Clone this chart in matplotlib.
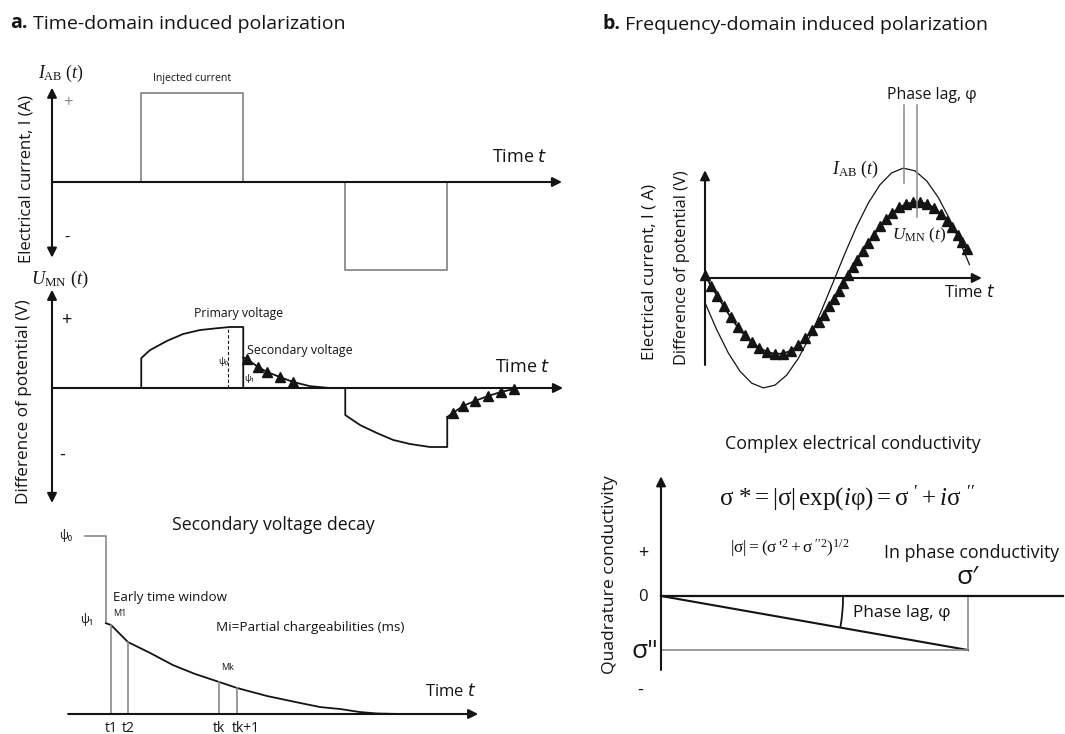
import matplotlib
matplotlib.use("Agg")
import matplotlib.pyplot as plt
from matplotlib.patches import Arc

W, H = 1065, 734
INK = "#141414"
GREY = "#8a8a8a"

plt.rcParams["font.family"] = ["Open Sans", "DejaVu Sans"]
plt.rcParams["mathtext.fontset"] = "custom"
plt.rcParams["mathtext.rm"] = "Liberation Serif"
plt.rcParams["mathtext.it"] = "Liberation Serif:italic"

# a. time domain -- injected current (time in arbitrary units, amplitude normalised)
pulse_start = [1.75, 5.75]
pulse_len = 2.0
pulse_amp = [1.0, -0.99]

# measured potential, on-time (primary) and off-time (secondary) parts
primary_t = [1.75, 1.75, 1.92, 2.25, 2.57, 2.90, 3.24, 3.49, 3.75, 3.75]
primary_v = [0.0, 0.49, 0.62, 0.77, 0.885, 0.95, 0.98, 1.0, 1.0, 0.0]
secondary_t = [3.75, 3.82, 4.04, 4.22, 4.47, 4.73, 5.06, 5.45]
secondary_v = [0.50, 0.475, 0.344, 0.262, 0.18, 0.098, 0.03, 0.0]
negative_t = [5.75, 5.75, 6.04, 6.37, 6.69, 7.02, 7.41, 7.75, 7.75]
negative_v = [0.0, -0.443, -0.607, -0.738, -0.852, -0.918, -0.967, -0.967, -0.475]
neg_secondary_t = [7.75, 7.86, 8.06, 8.29, 8.55, 8.80, 9.06]
neg_secondary_v = [-0.475, -0.41, -0.295, -0.213, -0.131, -0.066, -0.016]
psi0_t = 3.45

# secondary voltage decay
decay_t = [0.85, 1.0, 1.5, 2.15, 2.82, 3.47, 4.18, 4.71, 5.59, 6.56, 7.15, 7.74, 8.32, 8.82, 9.5]
decay_v = [0.51, 0.5, 0.404, 0.343, 0.275, 0.225, 0.18, 0.146, 0.101, 0.062, 0.039, 0.028, 0.011, 0.003, 0.0]
window_t = [1.0, 1.5, 4.18, 4.71]
window_labels = ["t1", "t2", "tk", "tk+1"]
psi0_start = 0.24

# b. frequency domain (phase in degrees)
i_deg = [0, 15, 30, 45, 60, 75, 90, 105, 120, 135, 150, 165, 180, 195, 210, 225,
         240, 255, 270, 285, 300, 315, 330, 340]
i_val = [-0.225, -0.469, -0.682, -0.848, -0.956, -0.999, -0.974, -0.883, -0.731, -0.530,
         -0.292, -0.035, 0.225, 0.469, 0.682, 0.848, 0.956, 0.999, 0.974, 0.883, 0.731,
         0.530, 0.292, 0.122]
u_deg = [0, 8, 16, 24, 33, 42, 51, 60, 70, 80, 90, 100, 110, 120, 129, 138, 146, 153, 160,
         166, 172, 178, 184, 190, 196, 203, 210, 217, 225, 233, 241, 250, 259, 268, 277,
         286, 295, 303, 311, 318, 325, 331, 337]
u_val = [0.024, -0.072, -0.167, -0.256, -0.357, -0.446, -0.521, -0.585, -0.637, -0.672,
         -0.690, -0.687, -0.663, -0.609, -0.548, -0.475, -0.401, -0.333, -0.256, -0.190,
         -0.120, -0.048, 0.024, 0.096, 0.167, 0.246, 0.321, 0.391, 0.471, 0.537, 0.592,
         0.642, 0.673, 0.688, 0.690, 0.672, 0.637, 0.585, 0.521, 0.460, 0.391, 0.327, 0.260]
lag_deg = [256, 272]
lag_bottom = [0.864, 0.555]
lag_top = 1.57

# complex conductivity
sigma_re = 1.0
sigma_im = -0.176
lag_radius = 0.593

fig = plt.figure(figsize=(W / 100, H / 100), dpi=100)


def panel(left, right, top, bottom, ox, oy, sx, sy):
    ax = fig.add_axes([left / W, 1 - bottom / H, (right - left) / W, (bottom - top) / H])
    ax.set_xlim((left - ox) / sx, (right - ox) / sx)
    ax.set_ylim((oy - bottom) / sy, (oy - top) / sy)
    ax.axis("off")
    return ax


def label(x, y, s, size=9, **kw):
    kw.setdefault("color", INK)
    kw.setdefault("ha", "center")
    kw.setdefault("va", "center")
    return fig.text(x / W, 1 - y / H, s, fontsize=size, **kw)


def arrow(ax, start, end, style="-|>"):
    ax.annotate("", xy=end, xytext=start, annotation_clip=False,
                arrowprops=dict(arrowstyle=style, color=INK, lw=1.5, mutation_scale=14,
                                shrinkA=0, shrinkB=0))


def title(x, y, tag, rest):
    first = label(x, y, tag, 14, ha="left", va="bottom", fontweight="bold")
    bg.annotate(rest, xy=(1, 0), xycoords=first, ha="left", va="bottom",
                fontsize=14, color=INK)


bg = fig.add_axes([0, 0, 1, 1])
bg.axis("off")

# ---- a. current
ax1 = panel(40, 575, 80, 280, 52, 182, 51, 89)
for s, a in zip(pulse_start, pulse_amp):
    ax1.plot([s, s, s + pulse_len, s + pulse_len], [0, a, a, 0], color=GREY, lw=1.3, clip_on=False)
arrow(ax1, (0, -0.85), (0, 1.06), "<|-|>")
arrow(ax1, (0, 0), (10.0, 0))

# ---- a. potential
ax2 = panel(40, 575, 285, 510, 52, 388, 51, 61)
ax2.plot(primary_t, primary_v, color=INK, lw=1.3, clip_on=False)
ax2.plot(negative_t, negative_v, color=INK, lw=1.3, clip_on=False)
ax2.plot(secondary_t, secondary_v, color=INK, lw=1.3, clip_on=False)
ax2.plot(secondary_t[1:-2], secondary_v[1:-2], "^", color=INK, ms=7, clip_on=False)
ax2.plot(neg_secondary_t, neg_secondary_v, color=INK, lw=1.3, clip_on=False)
ax2.plot(neg_secondary_t[1:], neg_secondary_v[1:], "^", color=INK, ms=7, clip_on=False)
ax2.plot([psi0_t, psi0_t], [0, 1.0], color=INK, lw=0.8, ls=(0, (3, 2)))
arrow(ax2, (0, -1.885), (0, 1.61), "<|-|>")
arrow(ax2, (0, 0), (10.02, 0))

# ---- a. decay
ax3 = panel(60, 490, 520, 725, 77, 714, 34, 178)
ax3.plot([psi0_start, decay_t[0], decay_t[0]], [1.0, 1.0, decay_v[0]], color=GREY, lw=1.2)
ax3.plot(decay_t, decay_v, color=INK, lw=1.3)
decay_at = dict(zip(decay_t, decay_v))
for t, lab in zip(window_t, window_labels):
    ax3.plot([t, t], [0, decay_at[t]], color=GREY, lw=1.2)
    ax3.text(t + (0.25 if "+" in lab else 0), -0.04, lab, ha="center", va="top",
             fontsize=10, color=INK)
arrow(ax3, (-0.26, 0), (11.8, 0))

# ---- b. sine
ax4 = panel(695, 995, 90, 400, 705, 278, 280 / 360, 110)
ax4.plot(i_deg, i_val, color=INK, lw=0.9, clip_on=False)
ax4.plot(u_deg, u_val, color=INK, lw=1.3, clip_on=False)
ax4.plot(u_deg, u_val, "^", color=INK, ms=7, clip_on=False)
for d, b in zip(lag_deg, lag_bottom):
    ax4.plot([d, d], [b, lag_top], color=GREY, lw=1.1)
arrow(ax4, (0, -0.79), (0, 0.98))
arrow(ax4, (0, 0), (356, 0))

# ---- b. conductivity
ax5 = panel(650, 1065, 470, 700, 661, 596, 307, 307)
ax5.plot([0, sigma_re], [0, sigma_im], color=INK, lw=1.5)
ax5.plot([sigma_re, sigma_re, 0], [0, sigma_im, sigma_im], color=GREY, lw=1.2)
ax5.plot([0, 1.31], [0, 0], color=INK, lw=1.6, clip_on=False)
ang = abs(sigma_im / sigma_re)
ax5.add_patch(Arc((0, 0), 2 * lag_radius, 2 * lag_radius, theta1=-57.3 * ang, theta2=0,
                  color=INK, lw=1.3))
arrow(ax5, (0, -0.241), (0, 0.39))

# ---- text
title(10, 33, "a.", " Time-domain induced polarization")
title(602, 34, "b.", " Frequency-domain induced polarization")

label(192, 79, "Injected current", 7.6)
label(61, 73, r"$I_{\mathrm{AB}}\ (t)$", 12.8)
label(68, 103, "+", 12, color=GREY)
label(67, 238, "-", 12)
label(27, 179, "Electrical current, I (A)", 12, rotation=90)
label(520, 157, "Time $t$", 13, math_fontfamily="dejavusans")

label(60, 279, r"$U_{\mathrm{MN}}\ (t)$", 13.3)
label(66, 320, "+", 13)
label(62, 455, "-", 13)
label(24, 402, "Difference of potential (V)", 12.3, rotation=90)
label(238, 313, "Primary voltage", 8.8)
label(300, 350, "Secondary voltage", 8.9)
label(223, 361, "ψ₀", 6.5)
label(249, 378, "ψ₁", 6.5)
label(523, 367, "Time $t$", 13, math_fontfamily="dejavusans")

label(273, 525, "Secondary voltage decay", 12.7)
label(66, 536, "ψ₀", 8.5)
label(87, 620, "ψ₁", 8.5)
label(170, 598, "Early time window", 9.6)
label(120, 613, "M1", 6.5)
label(228, 667, "Mk", 6.5)
label(310, 627, "Mi=Partial chargeabilities (ms)", 9.7)
label(451, 692, "Time $t$", 12, math_fontfamily="dejavusans")

label(932, 95, "Phase lag, φ", 11.4)
label(855, 169, r"$I_{\mathrm{AB}}\ (t)$", 13)
label(919, 235, r"$U_{\mathrm{MN}}\ (t)$", 12.4)
label(970, 293, "Time $t$", 12, math_fontfamily="dejavusans")
label(650, 272, "Electrical current, I ( A)", 12.2, rotation=90)
label(682, 268, "Difference of potential (V)", 11.8, rotation=90)

label(853, 444, "Complex electrical conductivity", 12.8)
label(847, 498, r"$\mathrm{σ}\ {*}=|\mathrm{σ}|\,\mathrm{exp}(i\mathrm{φ})=\mathrm{σ}\ '+i\mathrm{σ}\ ''$", 18)
label(790, 548, r"$|\mathrm{σ}|=(\mathrm{σ}\,'^{2}+\mathrm{σ}\,''^{2})^{1/2}$", 12.5)
label(972, 553, "In phase conductivity", 12.8)
label(968, 578, "σ′", 19)
label(610, 575, "Quadrature conductivity", 12.6, rotation=90)
label(643, 553, "+", 13)
label(643, 597, "0", 12)
label(645, 652, "σ\"", 19)
label(640, 690, "-", 13)
label(902, 613, "Phase lag, φ", 12.4)

fig.savefig("out.png", dpi=100, facecolor="white")
